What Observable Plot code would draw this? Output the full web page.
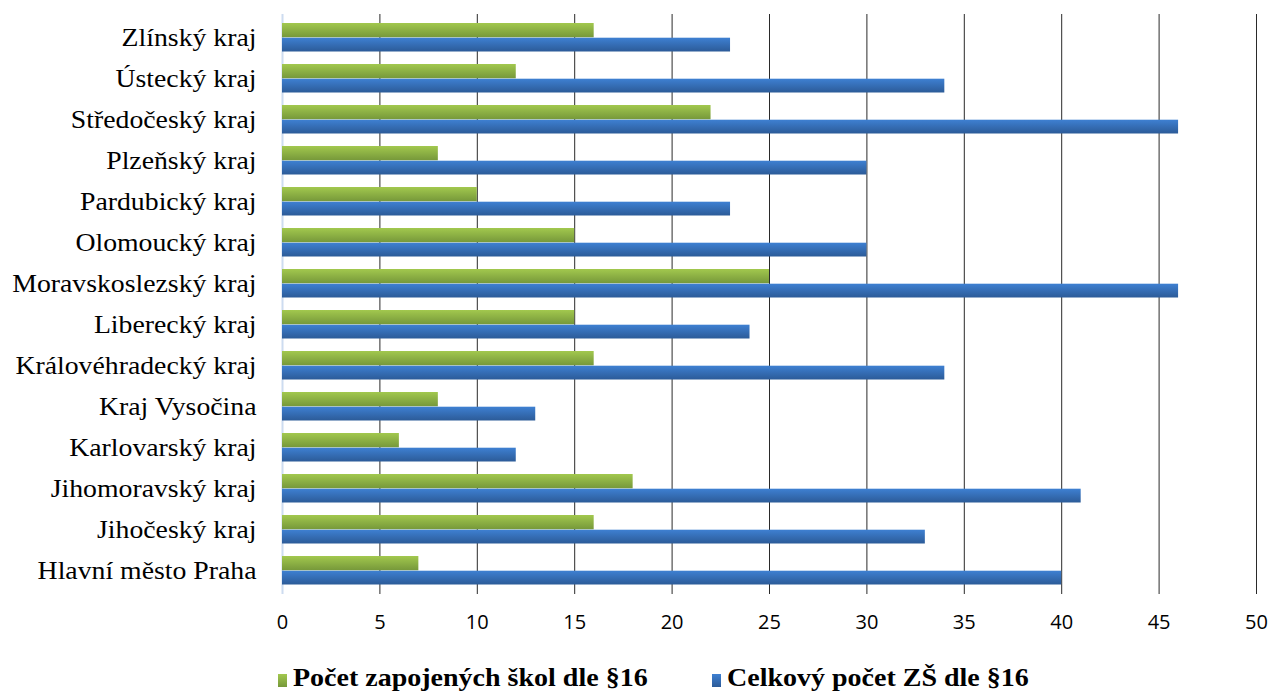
<!DOCTYPE html>
<html><head><meta charset="utf-8">
<script src="https://cdn.jsdelivr.net/npm/d3@7"></script>
<script src="https://cdn.jsdelivr.net/npm/@observablehq/plot@0.6"></script>
<style>
body{margin:0;background:#fff;}
#wrap{position:relative;width:1270px;height:693px;overflow:hidden;}
#legend{position:absolute;left:0;top:663px;width:1270px;height:30px;font-family:"Liberation Serif","Times New Roman",serif;font-weight:bold;font-size:25px;color:#000;}
.item{position:absolute;top:0;white-space:nowrap;line-height:30px;}
.sw{display:inline-block;width:9px;height:13px;margin-right:6px;vertical-align:-1px;}
.lt{display:inline-block;transform:scaleX(1.12);transform-origin:left center;}
</style></head>
<body><div id="wrap"><div id="chart"></div><div id="legend"></div></div>
<script>
const categories = ["Zlínský kraj","Ústecký kraj","Středočeský kraj","Plzeňský kraj","Pardubický kraj","Olomoucký kraj","Moravskoslezský kraj","Liberecký kraj","Královéhradecký kraj","Kraj Vysočina","Karlovarský kraj","Jihomoravský kraj","Jihočeský kraj","Hlavní město Praha"];
const zapojene = [16,12,22,8,10,15,25,15,16,8,6,18,16,7];
const celkem = [23,34,46,30,23,30,46,24,34,13,12,41,33,40];
const xTicks = [0,5,10,15,20,25,30,35,40,45,50];
const seriesNames = ["Počet zapojených škol dle §16","Celkový počet ZŠ dle §16"];

const rows = categories.map((c,i)=>({kraj:c, zap:zapojene[i], cel:celkem[i]}));

const plot = Plot.plot({
  width:1270, height:645,
  marginLeft:282, marginRight:14, marginTop:14, marginBottom:51,
  x:{domain:[0,50], ticks:xTicks},
  y:{domain:categories, padding:0},
  marks:[
    Plot.gridX(xTicks.filter(d=>d>0), {stroke:"#2a2a2a", strokeOpacity:1, strokeWidth:1}),
    Plot.ruleX([0], {stroke:"#cddcf0", strokeWidth:2}),
    Plot.barX(rows, {y:"kraj", x:"zap", fill:"url(#gradGreen)", insetTop:6, insetBottom:20.7, ariaLabel:"bar-green"}),
    Plot.barX(rows, {y:"kraj", x:"cel", fill:"url(#gradBlue)", insetTop:20.7, insetBottom:6.5, ariaLabel:"bar-blue"}),
    Plot.axisY({tickSize:0, tickPadding:26, fontSize:25, fontFamily:"Liberation Serif, Times New Roman, serif", label:null}),
    Plot.axisX({tickSize:0, tickPadding:20, fontSize:20, fontFamily:"Open Sans, sans-serif", label:null, ticks:xTicks})
  ]
});

const defs = d3.select(plot).insert("defs", ":first-child");
function grad(id, c1, c2){
  const g = defs.append("linearGradient").attr("id", id).attr("x1",0).attr("y1",0).attr("x2",0).attr("y2",1);
  g.append("stop").attr("offset","0%").attr("stop-color",c1);
  g.append("stop").attr("offset","100%").attr("stop-color",c2);
}
grad("gradGreen","#a2c84e","#76983a");
grad("gradBlue","#3e80d2","#2c5b98");
const f = defs.append("filter").attr("id","shadow").attr("x","-5%").attr("y","-30%").attr("width","115%").attr("height","180%");
f.append("feDropShadow").attr("dx",3).attr("dy",3).attr("stdDeviation",2).attr("flood-color","#000").attr("flood-opacity",0.35);
d3.select(plot).selectAll('g[aria-label^="bar-"]').attr("filter","url(#shadow)");

document.getElementById("chart").appendChild(plot);

// widen category labels horizontally to match the reference's wide serif text
d3.select(plot).selectAll('text').each(function(){
  if (!categories.includes(this.textContent)) return;
  const len = this.getComputedTextLength();
  if (len > 0) { this.setAttribute("textLength", (len*1.11).toFixed(1)); this.setAttribute("lengthAdjust","spacingAndGlyphs"); }
});

const colors = [["#a2c84e","#76983a"],["#3e80d2","#2c5b98"]];
const lefts = [278, 712];
const leg = d3.select("#legend");
seriesNames.forEach((n,i)=>{
  const it = leg.append("div").attr("class","item").style("left", lefts[i]+"px");
  it.append("span").attr("class","sw").style("background",`linear-gradient(${colors[i][0]},${colors[i][1]})`);
  it.append("span").attr("class","lt").text(n);
});
</script>
</body></html>
